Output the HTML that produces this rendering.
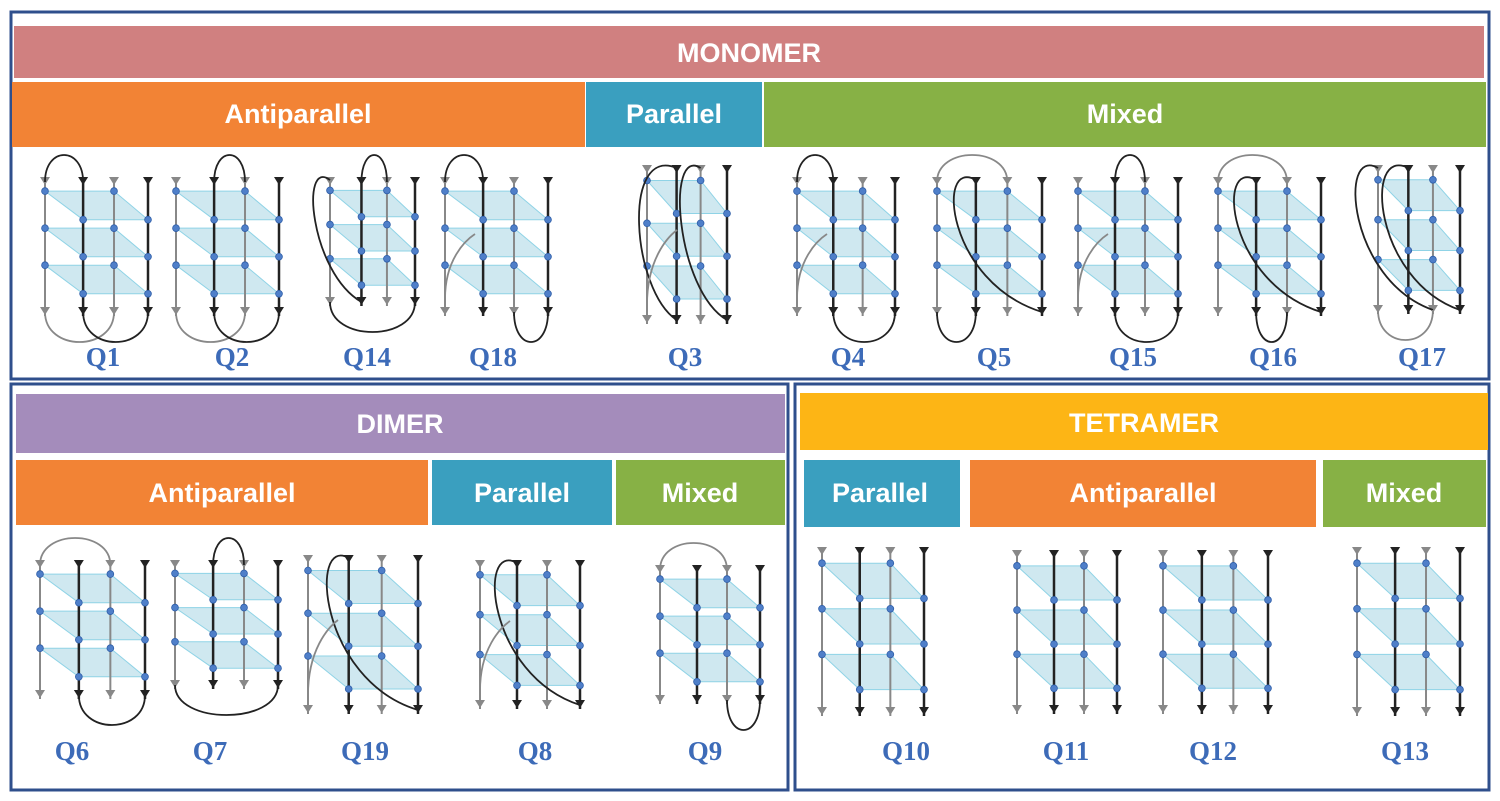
<!DOCTYPE html>
<html><head><meta charset="utf-8"><style>
body{margin:0;background:#fff;width:1500px;height:801px;overflow:hidden}
svg{display:block}
</style></head><body>
<svg id="s" width="1500" height="801" xmlns="http://www.w3.org/2000/svg" font-family="Liberation Sans, sans-serif">
<rect x="11" y="12" width="1478" height="367" fill="none" stroke="#2f4f8c" stroke-width="3"/>
<rect x="11" y="384" width="777" height="406" fill="none" stroke="#2f4f8c" stroke-width="3"/>
<rect x="795" y="384" width="694" height="406" fill="none" stroke="#2f4f8c" stroke-width="3"/>
<rect x="14" y="26" width="1470" height="52" fill="#d08080"/>
<rect x="12" y="82" width="573" height="65" fill="#f28335"/>
<rect x="586" y="82" width="176" height="65" fill="#3a9fbf"/>
<rect x="764" y="82" width="722" height="65" fill="#87b145"/>
<rect x="16" y="394" width="769" height="59" fill="#a48cbb"/>
<rect x="16" y="460" width="412" height="65" fill="#f28335"/>
<rect x="432" y="460" width="180" height="65" fill="#3a9fbf"/>
<rect x="616" y="460" width="169" height="65" fill="#87b145"/>
<rect x="800" y="393" width="688" height="57" fill="#fdb515"/>
<rect x="804" y="460" width="156" height="67" fill="#3a9fbf"/>
<rect x="970" y="460" width="346" height="67" fill="#f28335"/>
<rect x="1323" y="460" width="163" height="67" fill="#87b145"/>
<g fill="#fff" font-weight="bold" font-size="27" text-anchor="middle">
<text x="749" y="62">MONOMER</text>
<text x="298" y="123">Antiparallel</text>
<text x="674" y="123">Parallel</text>
<text x="1125" y="123">Mixed</text>
<text x="400" y="433">DIMER</text>
<text x="222" y="502">Antiparallel</text>
<text x="522" y="502">Parallel</text>
<text x="700" y="502">Mixed</text>
<text x="1144" y="432">TETRAMER</text>
<text x="880" y="502">Parallel</text>
<text x="1143" y="502">Antiparallel</text>
<text x="1404" y="502">Mixed</text>
</g>
<g fill="#3d6bb8" font-weight="bold" font-size="27" font-family="Liberation Serif, serif" text-anchor="middle">
<text x="103" y="366">Q1</text><text x="232" y="366">Q2</text><text x="367" y="366">Q14</text>
<text x="493" y="366">Q18</text><text x="685" y="366">Q3</text><text x="848" y="366">Q4</text>
<text x="994" y="366">Q5</text><text x="1133" y="366">Q15</text><text x="1273" y="366">Q16</text>
<text x="1422" y="366">Q17</text>
<text x="72" y="760">Q6</text><text x="210" y="760">Q7</text><text x="365" y="760">Q19</text>
<text x="535" y="760">Q8</text><text x="705" y="760">Q9</text>
<text x="906" y="760">Q10</text><text x="1066" y="760">Q11</text><text x="1213" y="760">Q12</text>
<text x="1405" y="760">Q13</text>
</g>
<g id="gl"></g>
</svg>
<script>
var out="";
function g(x,top,w,h,loops,cols){
  var xs=[x,x+.37*w,x+.67*w,x+w],bot=top+h;
  cols=cols||["#888","#222","#888","#222"];
  var s="";
  for(var k=0;k<3;k++){
    var py=top+h*0.07+k*h*0.285,ph=h*0.22;
    s+='<polygon points="'+xs[0]+','+py+' '+xs[2]+','+py+' '+xs[3]+','+(py+ph)+' '+xs[1]+','+(py+ph)+'" fill="#cfe8f0" stroke="#8fd3e6" stroke-width="1"/>';
  }
  for(var i=0;i<4;i++){
    s+='<line x1="'+xs[i]+'" y1="'+(top-4)+'" x2="'+xs[i]+'" y2="'+(bot+4)+'" stroke="'+cols[i]+'" stroke-width="'+(cols[i]=="#222"?2.5:2)+'"/>';
    s+='<path d="M'+(xs[i]-5)+','+(bot-5)+' L'+(xs[i]+5)+','+(bot-5)+' L'+xs[i]+','+(bot+3)+'z" fill="'+cols[i]+'"/>';
    s+='<path d="M'+(xs[i]-5)+','+(top-5)+' L'+(xs[i]+5)+','+(top-5)+' L'+xs[i]+','+(top+3)+'z" fill="'+cols[i]+'"/>';
  }
  for(var k=0;k<3;k++){
    var py=top+h*0.07+k*h*0.285,ph=h*0.22;
    [[xs[0],py],[xs[2],py],[xs[1],py+ph],[xs[3],py+ph]].forEach(function(p){
      s+='<circle cx="'+p[0]+'" cy="'+p[1]+'" r="3.4" fill="#4f7fc9" stroke="#2f5ea8" stroke-width="0.8"/>';});
  }
  (loops||[]).forEach(function(l){
    var t=l[0],a=xs[l[1]],b=xs[l[2]],c=l[3]||"#222",bl=l[4]||55,d;
    if(t=="t")d="M"+a+","+top+" C"+a+","+(top-36)+" "+b+","+(top-36)+" "+b+","+top;
    else if(t=="b")d="M"+a+","+bot+" C"+a+","+(bot+40)+" "+b+","+(bot+40)+" "+b+","+bot;
    else if(t=="d")d="M"+a+","+(top-2)+" C"+(a-bl)+","+(top-25)+" "+(a-bl+10)+","+(bot-30)+" "+b+","+bot;
    else d="M"+a+","+(top+h*0.9)+" C"+a+","+(top+h*0.6)+" "+(a+20)+","+(top+h*0.45)+" "+(a+30)+","+(top+h*0.4);
    s+='<path d="'+d+'" fill="none" stroke="'+c+'" stroke-width="1.8"/>';
  });
  out+=s;
}
var G="#888",K="#222";
g(45,182,103,130,[["t",0,1,K],["b",0,2,G],["b",1,3,K]]);
g(176,182,103,130,[["t",1,2,K],["b",0,2,G],["b",1,3,K]]);
g(330,182,85,120,[["t",1,2,K],["d",0,1,K,30],["b",0,3,K]]);
g(445,182,103,130,[["t",0,1,K],["b",2,3,K],["s",0,0,G]]);
g(647,170,80,150,[["d",1,1,K,55],["d",2,3,K,35],["s",0,0,G]]);
g(797,182,98,130,[["t",0,1,K],["b",1,3,K],["s",0,0,G]]);
g(937,182,105,130,[["t",0,2,G],["d",1,3,K,40],["b",0,1,K]]);
g(1078,182,100,130,[["t",1,2,K],["b",1,3,K],["s",0,0,G]]);
g(1218,182,103,130,[["t",0,2,G],["d",1,3,K,40],["b",1,2,K]]);
g(1378,170,82,140,[["d",1,3,K,45],["d",0,2,K,40],["b",0,2,G]]);
g(40,565,105,130,[["t",0,2,G],["b",1,3,K]]);
g(175,565,103,120,[["t",1,2,K],["b",0,3,K]]);
g(308,560,110,150,[["d",1,3,K,40],["s",0,0,G]]);
g(480,565,100,140,[["d",1,3,K,40],["s",0,0,G]]);
g(660,570,100,130,[["t",0,2,G],["b",2,3,K]]);
g(822,552,102,160);
g(1017,555,100,155);
g(1163,555,105,155);
g(1357,552,103,160);
document.getElementById("gl").innerHTML=out;
</script>
</body></html>
